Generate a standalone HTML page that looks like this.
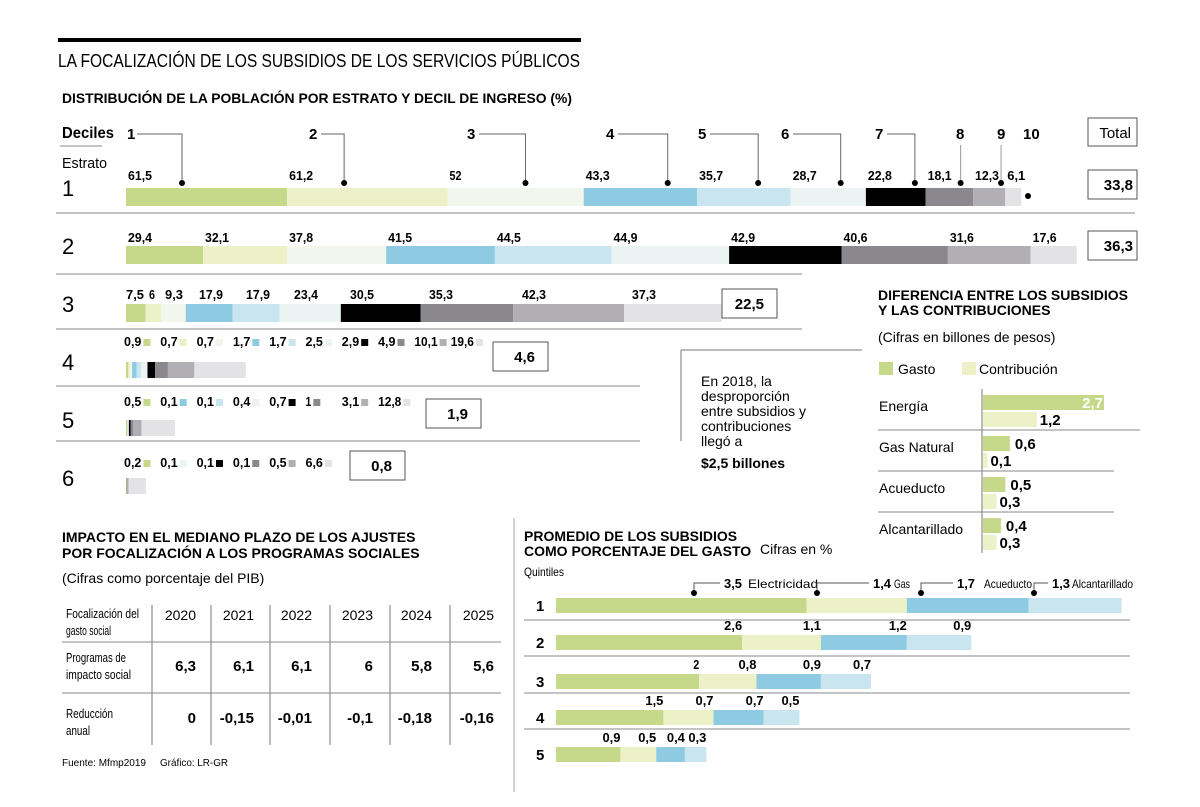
<!DOCTYPE html>
<html><head><meta charset="utf-8"><style>
body{margin:0;background:#fff}
svg{display:block;font-family:"Liberation Sans Narrow","Liberation Sans",sans-serif}
.b{font-weight:bold}
</style></head><body>
<svg id="s" width="1200" height="807" viewBox="0 0 1200 807">
<rect x="58" y="38" width="523" height="4" fill="#000"/>
<text x="58" y="67" font-size="18" font-family="Liberation Sans" textLength="522" lengthAdjust="spacingAndGlyphs">LA FOCALIZACIÓN DE LOS SUBSIDIOS DE LOS SERVICIOS PÚBLICOS</text>
<text x="62" y="103" font-size="14" class="b" font-family="Liberation Sans" textLength="510" lengthAdjust="spacingAndGlyphs">DISTRIBUCIÓN DE LA POBLACIÓN POR ESTRATO Y DECIL DE INGRESO (%)</text>
<text x="62" y="138" font-size="16" class="b" textLength="52" lengthAdjust="spacingAndGlyphs">Deciles</text>
<line x1="60" y1="146" x2="102" y2="146" stroke="#888"/>
<text x="62" y="168" font-size="15" textLength="45" lengthAdjust="spacingAndGlyphs">Estrato</text>
<rect x="1088" y="118" width="49" height="28" fill="none" stroke="#555"/>
<text x="1131" y="138" font-size="15" text-anchor="end">Total</text>
<g id="dec"></g>
<line x1="681" y1="350" x2="862" y2="350" stroke="#777"/>
<line x1="681" y1="350" x2="681" y2="441" stroke="#777"/>
<text font-size="14" font-family="Liberation Sans">
<tspan x="701" y="386">En 2018, la</tspan><tspan x="701" y="401">desproporción</tspan><tspan x="701" y="416">entre subsidios y</tspan><tspan x="701" y="431">contribuciones</tspan><tspan x="701" y="446">llegó a</tspan><tspan x="701" y="468" class="b">$2,5 billones</tspan></text>
<text font-size="14" class="b" font-family="Liberation Sans"><tspan x="878" y="300">DIFERENCIA ENTRE LOS SUBSIDIOS</tspan><tspan x="878" y="315">Y LAS CONTRIBUCIONES</tspan></text>
<text x="878" y="342" font-size="14" font-family="Liberation Sans">(Cifras en billones de pesos)</text>
<rect x="879" y="362" width="14" height="13" fill="#c6d98a"/>
<text x="898" y="374" font-size="14" font-family="Liberation Sans">Gasto</text>
<rect x="962" y="362" width="14" height="13" fill="#ecf1c8"/>
<text x="979" y="374" font-size="14" font-family="Liberation Sans">Contribución</text>
<g id="sub"></g>
<line x1="514" y1="518" x2="514" y2="792" stroke="#aaa"/>
<text font-size="14" class="b" font-family="Liberation Sans"><tspan x="62" y="542">IMPACTO EN EL MEDIANO PLAZO DE LOS AJUSTES</tspan><tspan x="62" y="558">POR FOCALIZACIÓN A LOS PROGRAMAS SOCIALES</tspan></text>
<text x="62" y="583" font-size="14" font-family="Liberation Sans">(Cifras como porcentaje del PIB)</text>
<g id="tbl"></g>
<text x="62" y="766" font-size="10" textLength="84" lengthAdjust="spacingAndGlyphs">Fuente: Mfmp2019</text>
<text x="160" y="766" font-size="10" textLength="68" lengthAdjust="spacingAndGlyphs">Gráfico: LR-GR</text>
<text font-size="14" class="b" font-family="Liberation Sans"><tspan x="524" y="541">PROMEDIO DE LOS SUBSIDIOS</tspan><tspan x="524" y="556">COMO PORCENTAJE DEL GASTO</tspan></text>
<text x="760" y="554" font-size="14">Cifras en %</text>
<text x="524" y="576" font-size="12" textLength="40" lengthAdjust="spacingAndGlyphs">Quintiles</text>
<g id="qui"></g>
</svg>
<script>
const NS="http://www.w3.org/2000/svg";
function mk(p,t,a,txt){const e=document.createElementNS(NS,t);for(const k in a)e.setAttribute(k,a[k]);if(txt!==undefined)e.textContent=txt;p.appendChild(e);return e;}
const decColors=["#c6d98a","#ecf1c8","#f3f6ec","#8ecbe2","#c9e6f0","#ecf4f3","#000000","#8a888c","#b1afb4","#e3e3e5"];
const estratos=["1","2","3","4","5","6"];
const estratoValues=[
 [61.5,61.2,52,43.3,35.7,28.7,22.8,18.1,12.3,6.1],
 [29.4,32.1,37.8,41.5,44.5,44.9,42.9,40.6,31.6,17.6],
 [7.5,6,9.3,17.9,17.9,23.4,30.5,35.3,42.3,37.3],
 [0.9,0.7,0.7,1.7,1.7,2.5,2.9,4.9,10.1,19.6],
 [0.5,0.1,0.1,0.4,0.7,1,3.1,12.8],
 [0.2,0.1,0.1,0.1,0.5,6.6]];
const estratoDeciles=[[0,1,2,3,4,5,6,7,8,9],[0,1,2,3,4,5,6,7,8,9],[0,1,2,3,4,5,6,7,8,9],[0,1,2,3,4,5,6,7,8,9],[0,3,4,5,6,7,8,9],[0,5,6,7,8,9]];
const estratoTotals=["33,8","36,3","22,5","4,6","1,9","0,8"];
const fmt=v=>String(v).replace(".",",");
const dx=v=>v*2.62;
const X0=126;
const g=document.getElementById("dec");
const rowBarY=[188,246,304,362,420,478], rowLabY=[180,242,299,346,406,467];
const sepY=[213,274,329,386,441], sepX2=[1135,802,802,640,640];
sepY.forEach((y,i)=>{const l=mk(g,"line",{x1:56,y1:y,x2:sepX2[i],y2:y,stroke:"#888"});

});
estratoValues.forEach((vals,r)=>{
  const n=mk(g,"text",{x:62,y:rowBarY[r]+8,"font-size":22,"font-family":"Liberation Sans"},estratos[r]);
  
  
  let x=X0;
  vals.forEach((v,i)=>{
    const w=dx(v);const c=decColors[estratoDeciles[r][i]];
    const b=mk(g,"rect",{x:x,y:rowBarY[r],width:w,height:r<3?18:16,fill:c});
    
    
    const s=fmt(v);
    if(r<3){
      const lx=r==2?Math.max(x,X0+[0,23,39,73,120,168,224,303,396,506][i]):x+2;
      const t=mk(g,"text",{x:lx,y:rowLabY[r],"font-size":13,class:"b",textLength:s.length*6,lengthAdjust:"spacingAndGlyphs"},s);
      
      
    } else {
      const lx=124+i*36.3;
      const tw=s.length*5.8;
      const t=mk(g,"text",{x:lx,y:rowLabY[r],"font-size":13,class:"b",textLength:tw,lengthAdjust:"spacingAndGlyphs"},s);
      
      
      mk(g,"rect",{x:lx+tw+2,y:rowLabY[r]-7,width:7,height:7,fill:c});
    }
    x+=w;
  });
  const boxes=[[1088,170],[1088,231],[722,289],[493,342],[426,399],[350,451]];
  const [bx,by]=boxes[r];
  const bb=mk(g,"rect",{x:bx,y:by,width:r<2?49:55,height:29,fill:"none",stroke:"#555"});
  
  
  const tt=mk(g,"text",{x:bx+(r<2?45:42),y:by+20,"font-size":15,class:"b","font-family":"Liberation Sans","text-anchor":"end"},estratoTotals[r]);
  
  
});
const headX=[127,309,467,606,698,781,875,956,997,1023];
let cum=X0;const starts=[];estratoValues[0].forEach(v=>{starts.push(cum);cum+=dx(v);});
headX.forEach((hx,i)=>{
  const t=mk(g,"text",{x:hx,y:139,"font-size":15,class:"b"},String(i+1));
  
  
  const dotX=i<9?starts[i]+[56,57,78,84,61,50,49,35,28][i]:1028;
  const dotY=i<9?183:196;
  if(i<7){mk(g,"polyline",{points:`${hx+(i>0?12:10)},134 ${dotX},134 ${dotX},${dotY}`,fill:"none",stroke:"#666"});}
  else if(i<9){mk(g,"line",{x1:dotX,y1:145,x2:dotX,y2:dotY,stroke:"#999"});}
  mk(g,"circle",{cx:dotX,cy:dotY,r:3,fill:"#000"});
});
const subCats=["Energía","Gas Natural","Acueducto","Alcantarillado"];
const subGasto=[2.7,0.6,0.5,0.4];
const subContrib=[1.2,0.1,0.3,0.3];
const sg=document.getElementById("sub");
const sx=v=>v*44.8, SX0=982;
mk(sg,"line",{x1:SX0,y1:389,x2:SX0,y2:553,stroke:"#777"});
[430,471,512].forEach((y,i)=>mk(sg,"line",{x1:878,y1:y,x2:i==0?1140:1114,y2:y,stroke:"#888"}));
subCats.forEach((c,i)=>{
  const y0=395+i*41;
  const t=mk(sg,"text",{x:879,y:y0+16,"font-size":14,"font-family":"Liberation Sans"},c);
  
  
  const b1=mk(sg,"rect",{x:SX0+1,y:y0,width:sx(subGasto[i]),height:15,fill:"#c6d98a"});
  
  
  const b2=mk(sg,"rect",{x:SX0+1,y:y0+17,width:sx(subContrib[i]),height:15,fill:"#ecf1c8"});
  
  
  const inside=sx(subGasto[i])>60;
  const l1=mk(sg,"text",{x:inside?SX0+sx(subGasto[i]):SX0+sx(subGasto[i])+6,y:y0+13,"font-size":15,class:"b","font-family":"Liberation Sans","text-anchor":inside?"end":"start",fill:inside?"#fff":"#000"},fmt(subGasto[i]));
  
  
  const l2=mk(sg,"text",{x:SX0+sx(subContrib[i])+4,y:y0+30,"font-size":15,class:"b","font-family":"Liberation Sans"},fmt(subContrib[i]));
  
  
});
const years=["2020","2021","2022","2023","2024","2025"];
const programas=["6,3","6,1","6,1","6","5,8","5,6"];
const reduccion=["0","-0,15","-0,01","-0,1","-0,18","-0,16"];
const tg=document.getElementById("tbl");
const colR=[196,254,312,373,432,494];
[152,211,270,330,390,450].forEach(x=>mk(tg,"line",{x1:x,y1:605,x2:x,y2:745,stroke:"#bbb","stroke-width":2}));
[642,693].forEach(y=>mk(tg,"line",{x1:62,y1:y,x2:501,y2:y,stroke:"#888"}));
[["Focalización del",618,73],["gasto social",635,45],["Programas de",662,60],["impacto social",679,65],["Reducción",718,47],["anual",735,24]].forEach(([s,y,w])=>{const t=mk(tg,"text",{x:66,y:y,"font-size":13,textLength:w,lengthAdjust:"spacingAndGlyphs"},s);});
years.forEach((yr,i)=>{
  const a=mk(tg,"text",{x:colR[i],y:620,"font-size":14,"font-family":"Liberation Sans","text-anchor":"end"},yr);
  
  
  const b=mk(tg,"text",{x:colR[i],y:671,"font-size":15,class:"b","font-family":"Liberation Sans","text-anchor":"end"},programas[i]);
  
  
  const c=mk(tg,"text",{x:colR[i],y:723,"font-size":15,class:"b","font-family":"Liberation Sans","text-anchor":"end"},reduccion[i]);
  
  
});
const quintiles=["1","2","3","4","5"];
const services=["Electricidad","Gas","Acueducto","Alcantarillado"];
const electricidad=[3.5,2.6,2,1.5,0.9];
const gas=[1.4,1.1,0.8,0.7,0.5];
const acueducto=[1.7,1.2,0.9,0.7,0.4];
const alcantarillado=[1.3,0.9,0.7,0.5,0.3];
const qColors=["#c6d98a","#ecf1c8","#8ecbe2","#c9e6f0"];
const qg=document.getElementById("qui");
const qx=v=>v*71.6, QX0=556;
const qY=[598,635,674,710,747];
[620,656,693,729].forEach(y=>mk(qg,"line",{x1:524,y1:y,x2:1130,y2:y,stroke:"#888"}));
quintiles.forEach((q,r)=>{
  const n=mk(qg,"text",{x:536,y:qY[r]+13,"font-size":15,class:"b"},q);
  
  
  const vals=[electricidad[r],gas[r],acueducto[r],alcantarillado[r]];
  let x=QX0;
  vals.forEach((v,i)=>{
    const w=qx(v);
    const b=mk(qg,"rect",{x:x,y:qY[r],width:w,height:15,fill:qColors[i]});
    
    
    const s=fmt(v);
    if(r>0){
      const t=mk(qg,"text",{x:x+w,y:qY[r]-5,"font-size":13,class:"b","text-anchor":"end",textLength:s.length*6,lengthAdjust:"spacingAndGlyphs"},s);
      
      
    } else {
      const dotX=[694,817,921,1034][i];
      const vx=[724,873,957,1052][i], svx=[748,894,984,1072][i], sw=[70,16,48,61][i];
      mk(qg,"polyline",{points:`${dotX},593 ${dotX},583 ${vx-4},583`,fill:"none",stroke:"#555"});
      mk(qg,"circle",{cx:dotX,cy:593,r:3,fill:"#000"});
      const t=mk(qg,"text",{x:vx,y:588,"font-size":13,class:"b",textLength:18,lengthAdjust:"spacingAndGlyphs"},s);
      
      
      const sl=mk(qg,"text",{x:svx,y:588,"font-size":12,textLength:sw,lengthAdjust:"spacingAndGlyphs"},services[i]);
      
      
    }
    x+=w;
  });
});
</script>
</body></html>
